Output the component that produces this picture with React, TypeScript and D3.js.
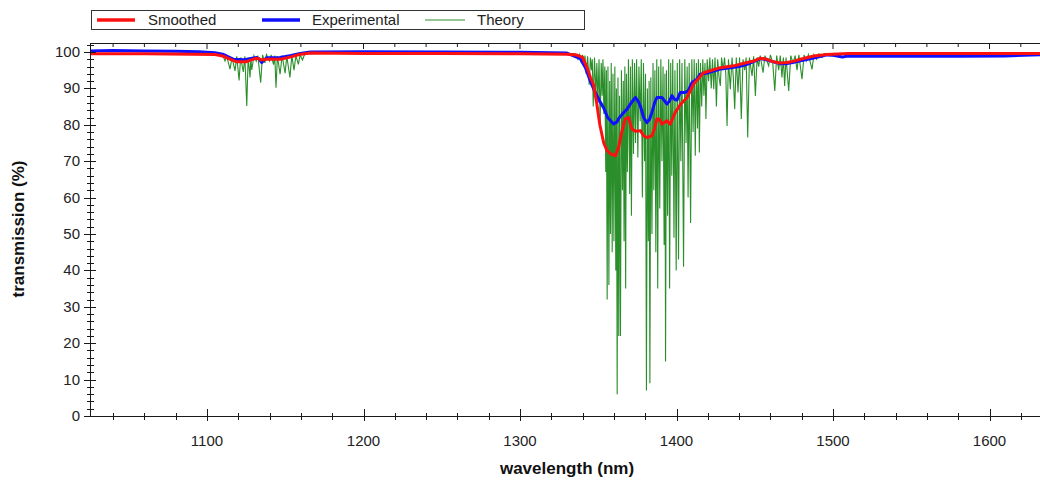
import React from "react";
import * as d3 from "d3";

// ---- data ----
const smoothedWl = [1024.5, 1060, 1090, 1105, 1110, 1115, 1119, 1125, 1130, 1132, 1135, 1138, 1147, 1153, 1159, 1166, 1200, 1250, 1300, 1330, 1336, 1340, 1343, 1345, 1347, 1349, 1351, 1353.5, 1355.6, 1358, 1361, 1363, 1365, 1367.3, 1369.4, 1371.5, 1374, 1376.9, 1379, 1381, 1384.3, 1386, 1387.5, 1389, 1390.7, 1393.9, 1396, 1399.2, 1402.4, 1406.7, 1410.9, 1417.3, 1428, 1436.5, 1445, 1450, 1453.6, 1457.9, 1462, 1466, 1470.7, 1475, 1479.2, 1487.7, 1496, 1510, 1560, 1600, 1634];
const smoothedT = [99.5, 99.5, 99.4, 99.3, 98.9, 98.0, 97.3, 97.3, 98.1, 98.3, 97.8, 98.0, 98.0, 98.6, 99.3, 99.7, 99.6, 99.6, 99.5, 99.4, 99.2, 98.5, 95.5, 93, 91, 86, 80, 75, 72.9, 72, 71.5, 73.8, 78, 81.6, 82, 78.8, 78.2, 78.4, 77, 76.5, 77, 79, 81.6, 81.5, 80.2, 81.1, 80.2, 83.4, 85.5, 87.5, 91.2, 94.3, 95.7, 96.2, 97.1, 97.6, 98.3, 98.0, 97.3, 97.0, 97.1, 97.5, 98.0, 98.9, 99.3, 99.6, 99.6, 99.6, 99.6];

const experimentalWl = [1024.5, 1040, 1060, 1080, 1095, 1105, 1110, 1114, 1117, 1124, 1128, 1131.8, 1133.5, 1135, 1136.5, 1138, 1146.7, 1153, 1159.5, 1166, 1200, 1250, 1300, 1330, 1338.5, 1342, 1344.9, 1348, 1351, 1353.4, 1356, 1359.8, 1362, 1363, 1365.5, 1368.4, 1371, 1373.7, 1375.5, 1376.9, 1379, 1381.1, 1382.8, 1384.3, 1386, 1387.5, 1390.7, 1393.9, 1395.5, 1397.1, 1398.7, 1400.3, 1402.4, 1405.6, 1407.5, 1409.9, 1413, 1415.2, 1419.4, 1428, 1432.2, 1440, 1445.1, 1450, 1453.6, 1458, 1462, 1466, 1470.7, 1475, 1479.2, 1487, 1496.2, 1500, 1506, 1509, 1540, 1580, 1610, 1634];
const experimentalT = [100.3, 100.4, 100.3, 100.2, 100.1, 99.8, 99.4, 98.6, 98.0, 97.9, 98.2, 98.5, 98.0, 97.1, 97.8, 98.4, 98.5, 99.0, 99.6, 100.0, 100.1, 100.0, 99.9, 99.7, 98.2, 95.5, 92, 89, 86.5, 84.7, 82, 80.2, 80.8, 81.7, 83, 84.3, 86, 87.5, 86.5, 85.2, 82, 80.6, 81.5, 83.4, 86, 87.5, 87.5, 85.7, 86.5, 88, 87, 86.8, 88.9, 88.9, 89.3, 91.6, 92.5, 93.9, 94.2, 95.3, 95.5, 96, 96.6, 97.5, 98.2, 97.8, 97.3, 96.8, 96.8, 97.2, 97.6, 98.3, 99.2, 99.1, 98.6, 98.9, 98.8, 98.8, 98.9, 99.3];

const theoryPoints: [number, number][] = [
  [1024.5, 99.6], [1108, 99.6],
  [1110, 99.2], [1111.5, 97.5], [1112.5, 99], [1114.7, 95.3], [1116, 98.5], [1117.9, 94.8], [1119, 98.8], [1120.5, 92.2], [1121.5, 98.5], [1123.2, 94.5], [1124.2, 98.8], [1125.4, 85.2], [1126.3, 98.5], [1127.5, 93], [1128, 98.5], [1128.6, 95.1], [1130, 99], [1131.5, 97.5], [1132.5, 99], [1134.3, 91.6], [1135.5, 99.2], [1137, 97], [1138, 99.3], [1140, 97.5], [1141, 99.2], [1142.5, 96.5], [1143.3, 99], [1144.1, 90.2], [1145, 98.8], [1146.7, 93.9], [1148, 99], [1149.9, 94.2], [1151, 98.8], [1153, 93], [1154.2, 99], [1155.6, 95], [1156.8, 99], [1158.4, 96.6], [1159.5, 99.2], [1161, 97.8], [1162.5, 99.5],
  [1170, 99.6], [1335, 99.6],
  [1336, 99.2], [1337, 98], [1338, 99.3], [1339.2, 97], [1340, 99.2], [1340.8, 96], [1341.5, 99], [1342.3, 94], [1343.2, 98.8], [1344.2, 91], [1345, 98.5], [1345.7, 95], [1346.2, 98], [1346.8, 85], [1347.6, 98.5], [1348.5, 88], [1349.1, 97], [1349.8, 86], [1350.5, 98], [1351.2, 80], [1351.9, 97], [1352.5, 88], [1353, 98], [1353.6, 83], [1354.2, 96], [1354.8, 67], [1355.2, 95], [1355.7, 32], [1356.2, 96], [1356.8, 36], [1357.3, 92], [1357.8, 50], [1358.3, 97], [1358.9, 45], [1359.4, 94], [1360, 48], [1360.6, 96], [1361.2, 40], [1361.6, 90], [1362.1, 6], [1362.6, 93], [1363.1, 22], [1363.6, 88], [1364.2, 22], [1364.8, 95], [1365.5, 62], [1366, 92], [1366.5, 48], [1367, 96], [1367.5, 35], [1368, 94], [1368.6, 67], [1369.3, 98], [1370.1, 61], [1370.6, 96], [1371.2, 55], [1371.8, 98], [1372.5, 72], [1373.2, 97], [1373.8, 75], [1374.5, 98], [1375.3, 71], [1376, 96], [1376.8, 81], [1377.5, 98], [1378.2, 60], [1378.9, 97], [1379.6, 70], [1380.2, 94], [1380.8, 7], [1381.4, 90], [1382, 48], [1382.5, 92], [1383, 9], [1383.6, 93], [1384.3, 50], [1385, 97], [1385.5, 62], [1386.2, 95], [1386.8, 45], [1387.4, 98], [1388, 35], [1388.6, 96], [1389.3, 57], [1390, 98], [1390.7, 70], [1391.4, 96], [1392.1, 47], [1392.6, 94], [1393, 15], [1393.6, 95], [1394.3, 55], [1395, 98], [1395.6, 35], [1396.3, 97], [1397, 66], [1397.6, 98], [1398.4, 49], [1399, 95], [1399.8, 40], [1400.5, 97], [1401.3, 43], [1402, 98], [1402.8, 70], [1403.5, 97], [1404.5, 41], [1405.3, 98], [1406.1, 75], [1406.8, 96], [1407.4, 60], [1408.1, 97], [1409, 53], [1409.8, 98], [1410.6, 78], [1411.3, 98], [1412, 71.5], [1412.7, 97], [1413.4, 79], [1414, 98], [1414.6, 72.4], [1415.3, 97], [1416.1, 85], [1416.8, 98], [1417.5, 88], [1418.2, 97], [1418.8, 81.6], [1419.6, 98], [1420.5, 92], [1421.3, 98.5], [1422.2, 90], [1423, 98], [1423.8, 89.8], [1424.6, 98.5], [1425.5, 85], [1426.3, 98], [1427.2, 93], [1428, 90.7], [1428.8, 98.5], [1429.8, 95], [1430.7, 98.5], [1431.5, 94], [1432.3, 79.7], [1433.2, 98], [1434.4, 89.8], [1435.5, 98.5], [1436.3, 93], [1437.2, 84.3], [1438.2, 98.5], [1439.3, 88.9], [1440.3, 98.5], [1441.4, 81.6], [1442.5, 98], [1443.6, 95], [1444.5, 98.5], [1445.5, 76.5], [1446.6, 98.5], [1447.4, 96], [1448.3, 93.4], [1449.3, 98.8], [1450.4, 87.9], [1451.5, 98.5], [1452.5, 96], [1453.5, 99], [1455.3, 94.3], [1456.5, 99], [1458.9, 96.2], [1460, 99.2], [1461.5, 97], [1462.8, 89.3], [1464, 99], [1465.3, 95], [1466.3, 99], [1467.4, 93], [1468.3, 98.5], [1469.1, 90.7], [1470, 98.5], [1471.7, 89.3], [1473, 99], [1474.5, 97], [1475.8, 99], [1477, 95], [1478.2, 99.2], [1480.2, 92.5], [1481.5, 99.2], [1483, 97.5], [1484.3, 99.3], [1486.6, 95.2], [1487.8, 99.3], [1489.5, 98], [1491, 99.5], [1493, 98.5], [1494.5, 99.6], [1500, 99.6], [1634, 99.6],
];

const yTickValues = [0, 10, 20, 30, 40, 50, 60, 70, 80, 90, 100];
const xTickValues = [1100, 1200, 1300, 1400, 1500, 1600];
const legendLabels = ["Smoothed", "Experimental", "Theory"];

const W = 1040;
const H = 484;
const FONT = "'Liberation Sans', Arial, sans-serif";

export default function App() {
  const left = 90;
  const right = 1045;
  const top = 43;
  const bottom = 416;

  const x = d3.scaleLinear().domain([1100, 1600]).range([207, 989.5]);
  const y = d3.scaleLinear().domain([0, 100]).range([416, 52]);

  const line = d3
    .line<[number, number]>()
    .x((d) => x(d[0]))
    .y((d) => y(d[1]));

  const smoothed: [number, number][] = smoothedWl.map((w, i) => [w, smoothedT[i]]);
  const experimental: [number, number][] = experimentalWl.map((w, i) => [w, experimentalT[i]]);

  const yMinor = d3.range(0, 103, 2);
  const xMinor = d3.range(1040, 1640, 20);
  const axisColor = "#1a1a1a";

  const legendItems = [
    { label: legendLabels[0], color: "#ff1010", width: 3.5, x0: 97, x1: 135, tx: 148 },
    { label: legendLabels[1], color: "#1010ff", width: 3.5, x0: 262, x1: 300, tx: 312 },
    { label: legendLabels[2], color: "#2a8f2a", width: 1.2, x0: 425, x1: 465, tx: 477 },
  ];

  return (
    <svg
      width={W}
      height={H}
      style={{ position: "absolute", left: 0, top: 0, background: "#fff" }}
      fontFamily={FONT}
    >
      <rect x={0} y={0} width={W} height={H} fill="#fff" />
      <defs>
        <clipPath id="plotClip">
          <rect x={left} y={top} width={right - left} height={bottom - top + 1} />
        </clipPath>
      </defs>

      {/* legend */}
      <rect x={91.5} y={10.5} width={493} height={19} fill="#fff" stroke="#333" strokeWidth={1} />
      {legendItems.map((it) => (
        <g key={it.label}>
          <line x1={it.x0} x2={it.x1} y1={20} y2={20} stroke={it.color} strokeWidth={it.width} />
          <text x={it.tx} y={25} fontSize={15} fill="#222">
            {it.label}
          </text>
        </g>
      ))}

      {/* data */}
      <g clipPath="url(#plotClip)">
        <path d={line(theoryPoints) || ""} fill="none" stroke="#2a8f2a" strokeWidth={1.1} />
        <path d={line(experimental) || ""} fill="none" stroke="#1010ff" strokeWidth={3} strokeLinejoin="round" />
        <path d={line(smoothed) || ""} fill="none" stroke="#ff1010" strokeWidth={3} strokeLinejoin="round" />
      </g>

      {/* top frame with ticks */}
      <line x1={left} x2={right} y1={top + 0.5} y2={top + 0.5} stroke={axisColor} strokeWidth={1} />
      {xMinor.map((v) => (
        <line key={"tt" + v} x1={x(v)} x2={x(v)} y1={top} y2={top + (v % 100 === 0 ? 6 : 4)} stroke={axisColor} strokeWidth={1} />
      ))}

      {/* y axis */}
      <line x1={left + 0.5} x2={left + 0.5} y1={top} y2={bottom} stroke={axisColor} strokeWidth={1} />
      {yMinor.map((v) => (
        <line key={"ym" + v} x1={left - 3} x2={left + 4} y1={Math.round(y(v)) + 0.5} y2={Math.round(y(v)) + 0.5} stroke={axisColor} strokeWidth={1} />
      ))}
      {yTickValues.map((v) => (
        <g key={"yt" + v}>
          <line x1={left - 6} x2={left + 6} y1={Math.round(y(v)) + 0.5} y2={Math.round(y(v)) + 0.5} stroke={axisColor} strokeWidth={1} />
          <text x={80} y={y(v) + 5} textAnchor="end" fontSize={15} fill="#222">
            {v}
          </text>
        </g>
      ))}

      {/* x axis */}
      <line x1={left} x2={right} y1={bottom + 0.5} y2={bottom + 0.5} stroke={axisColor} strokeWidth={1} />
      {xMinor.map((v) => (
        <line key={"xm" + v} x1={Math.round(x(v)) + 0.5} x2={Math.round(x(v)) + 0.5} y1={bottom - 3} y2={bottom + 4} stroke={axisColor} strokeWidth={1} />
      ))}
      {xTickValues.map((v) => (
        <g key={"xt" + v}>
          <line x1={Math.round(x(v)) + 0.5} x2={Math.round(x(v)) + 0.5} y1={bottom - 7} y2={bottom + 5} stroke={axisColor} strokeWidth={1} />
          <text x={x(v)} y={446} textAnchor="middle" fontSize={15} fill="#222">
            {v}
          </text>
        </g>
      ))}

      {/* axis titles */}
      <text x={567} y={474} textAnchor="middle" fontSize={17} fontWeight="bold" fill="#111">
        wavelength (nm)
      </text>
      <text
        transform="translate(24,229) rotate(-90)"
        textAnchor="middle"
        fontSize={17}
        fontWeight="bold"
        fill="#111"
      >
        transmission (%)
      </text>
    </svg>
  );
}
